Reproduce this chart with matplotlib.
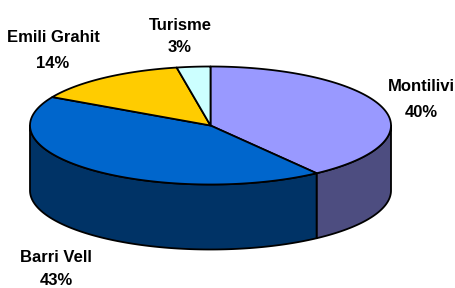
import numpy as np
import matplotlib
matplotlib.use("Agg")
import matplotlib.pyplot as plt
from matplotlib.patches import Polygon

# Data
categories = ["Montilivi", "Barri Vell", "Emili Grahit", "Turisme"]
values = [40, 43, 14, 3]
top_colors = ["#9999FF", "#0066CC", "#FFCC00", "#CCFFFF"]
side_colors = ["#4D4D80", "#003366", "#806600", "#668080"]

# Layout (pixel coords, y down)
W, H = 455, 288
cx, cy = 210.5, 125.5
a, b = 180.5, 59.0
depth = 65.0
start = 90.0
# (x center, name baseline, percent baseline)
label_pos = [(421, 91, 117), (56, 262, 285), (53, 42, 68), (180, 29.5, 52)]

fig = plt.figure(figsize=(W / 100, H / 100), dpi=100)
ax = fig.add_axes([0, 0, 1, 1])
ax.set_xlim(0, W)
ax.set_ylim(H, 0)
ax.axis("off")

def pt(theta_deg, dz=0.0):
    t = np.radians(theta_deg)
    return cx + a * np.cos(t), cy - b * np.sin(t) + dz

total = float(sum(values))
angles = []
cur = start
for v in values:
    sweep = 360.0 * v / total
    angles.append((cur - sweep, cur))
    cur -= sweep

lw = 1.3
# Side faces (front half only)
for (t1, t2), sc in zip(angles, side_colors):
    for off in (-360, 0, 360):
        lo = max(t1 + off, -180.0)
        hi = min(t2 + off, 0.0)
        if hi > lo:
            ts = np.linspace(lo, hi, 120)
            topp = [pt(t) for t in ts]
            botp = [pt(t, depth) for t in ts[::-1]]
            poly = Polygon(topp + botp, closed=True, facecolor=sc,
                           edgecolor="black", linewidth=lw, joinstyle="round")
            ax.add_patch(poly)

# Top faces
for (t1, t2), tc in zip(angles, top_colors):
    ts = np.linspace(t1, t2, 200)
    pts = [(cx, cy)] + [pt(t) for t in ts]
    poly = Polygon(pts, closed=True, facecolor=tc, edgecolor="black",
                   linewidth=lw, joinstyle="round")
    ax.add_patch(poly)

for cat, v, (lx, ly1, ly2) in zip(categories, values, label_pos):
    ax.text(lx, ly1, cat, ha="center", va="baseline",
            fontsize=12, fontweight="bold", family="Liberation Sans")
    ax.text(lx, ly2, f"{v}%", ha="center", va="baseline",
            fontsize=12, fontweight="bold", family="Liberation Sans")

fig.savefig("out.png", dpi=100)
